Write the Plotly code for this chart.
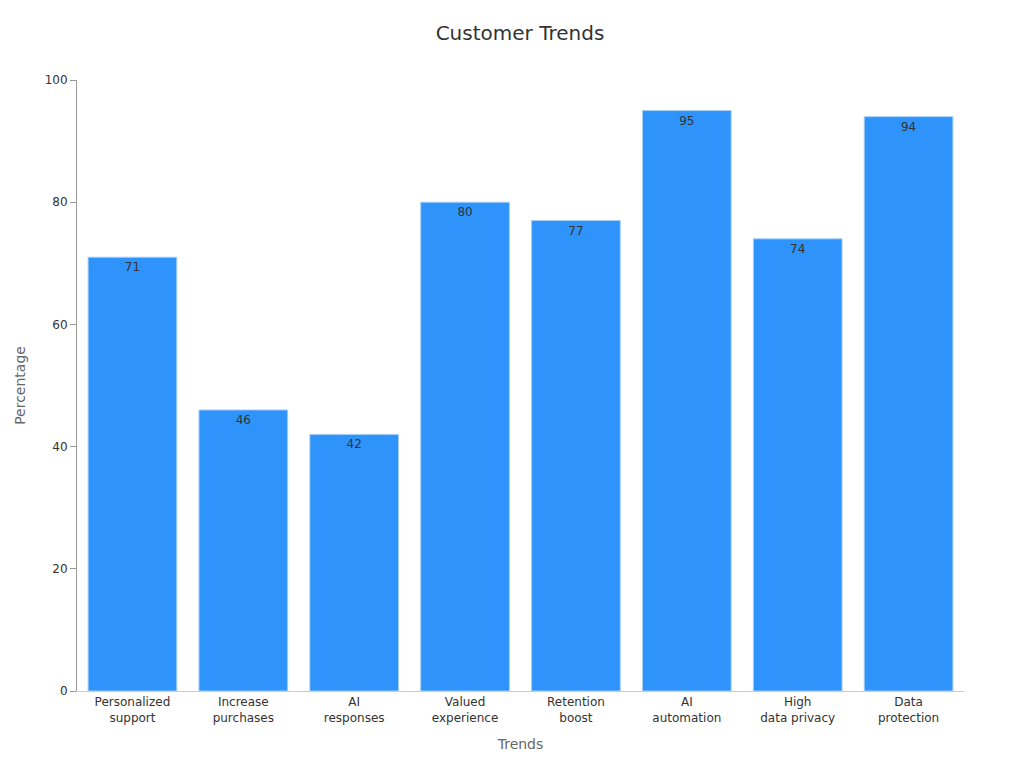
import plotly.graph_objs as go

# Chart data
trends = ['Personalized<br>support', 'Increase<br>purchases', 'AI<br>responses', 'Valued<br>experience',
          'Retention<br>boost', 'AI<br>automation', 'High<br>data privacy', 'Data<br>protection']
percentages = [71, 46, 42, 80, 77, 95, 74, 94]

fig = go.Figure()
fig.add_trace(go.Bar(
    x=trends, y=percentages,
    text=percentages, textposition='inside', insidetextanchor='end',
    textfont=dict(color='#333333', size=12),
    marker=dict(color='#2E93FA', line=dict(color='#A8CFF5', width=1)),
))

fig.update_layout(
    width=1024, height=768,
    title=dict(text='Customer Trends', x=0.5, y=0.977, xanchor='center',
               font=dict(size=20, color='#333333')),
    font=dict(family='DejaVu Sans', color='#333333', size=12),
    paper_bgcolor='white', plot_bgcolor='white',
    margin=dict(l=61, r=68, t=72, b=85),
    bargap=0.2, showlegend=False,
    xaxis=dict(title=dict(text='Trends', font=dict(size=14, color='#666666')),
               showline=True, linecolor='#cccccc', ticks='', tickfont=dict(size=12)),
    yaxis=dict(title=dict(text='Percentage', font=dict(size=14, color='#666666')),
               range=[0, 100], dtick=20, showgrid=False, zeroline=False,
               showline=True, linecolor='#999999', ticks='outside', ticklen=6,
               tickcolor='#999999', tickfont=dict(size=12)),
)

fig.write_html("out.html")
